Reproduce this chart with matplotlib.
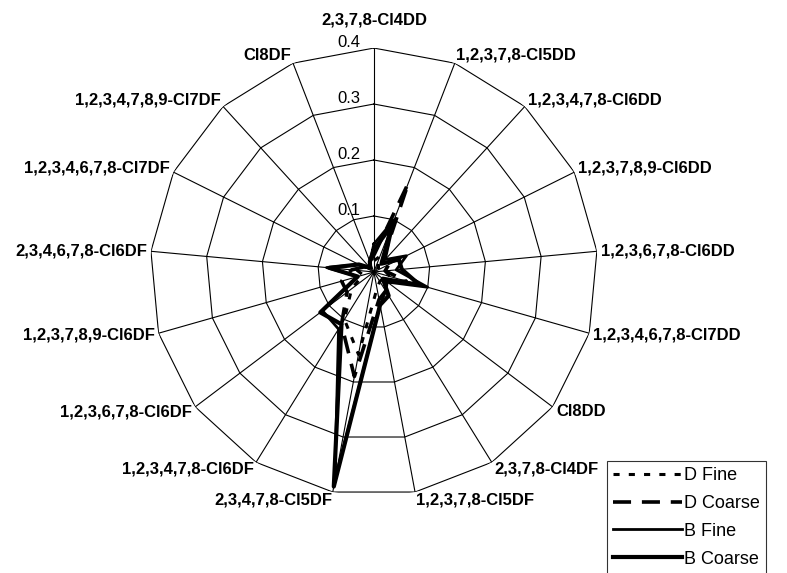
import numpy as np
import matplotlib
matplotlib.use("Agg")
import matplotlib.pyplot as plt

plt.rcParams['font.family'] = ['Liberation Sans', 'DejaVu Sans']

congeners = ['2,3,7,8-Cl4DD', '1,2,3,7,8-Cl5DD', '1,2,3,4,7,8-Cl6DD', '1,2,3,7,8,9-Cl6DD',
             '1,2,3,6,7,8-Cl6DD', '1,2,3,4,6,7,8-Cl7DD', 'Cl8DD', '2,3,7,8-Cl4DF',
             '1,2,3,7,8-Cl5DF', '2,3,4,7,8-Cl5DF', '1,2,3,4,7,8-Cl6DF', '1,2,3,6,7,8-Cl6DF',
             '1,2,3,7,8,9-Cl6DF', '2,3,4,6,7,8-Cl6DF', '1,2,3,4,6,7,8-Cl7DF',
             '1,2,3,4,7,8,9-Cl7DF', 'Cl8DF']

d_fine = [0.02, 0.03, 0.01, 0.02, 0.02, 0.03, 0.02, 0.02, 0.03, 0.15, 0.10, 0.05,
          0.02, 0.03, 0.02, 0.01, 0.01]
d_coarse = [0.03, 0.17, 0.02, 0.03, 0.02, 0.06, 0.03, 0.04, 0.05, 0.19, 0.11, 0.06,
            0.06, 0.04, 0.02, 0.01, 0.02]
b_fine = [0.05, 0.10, 0.03, 0.065, 0.04, 0.10, 0.03, 0.04, 0.06, 0.38, 0.12, 0.115,
          0.03, 0.085, 0.03, 0.01, 0.02]
b_coarse = [0.04, 0.09, 0.02, 0.05, 0.05, 0.085, 0.02, 0.05, 0.06, 0.39, 0.11, 0.12,
            0.03, 0.08, 0.03, 0.01, 0.02]

rings = [0.1, 0.2, 0.3, 0.4]

n = len(congeners)
theta = np.linspace(0, 2 * np.pi, n, endpoint=False)
tc = np.append(theta, theta[0])

fig = plt.figure(figsize=(7.87, 5.73), dpi=100)
ax = fig.add_axes([0.1906, 0.1344, 0.569, 0.782], projection='polar')
ax.set_theta_zero_location('N')
ax.set_theta_direction(-1)
ax.set_ylim(0, 0.4)
ax.grid(False)
ax.set_xticks([])
ax.set_yticks([])
ax.spines['polar'].set_visible(False)

# polygon grid
for r in rings:
    ax.plot(tc, [r] * (n + 1), color='black', lw=0.8, zorder=1)
for t in theta:
    ax.plot([t, t], [0, 0.4], color='black', lw=0.8, zorder=1)

for r in rings:
    ax.annotate(f'{r:.1f}', xy=(0, r), xytext=(-18, 4), textcoords='offset points',
                ha='center', va='center', fontsize=12)

def closed(v):
    return list(v) + [v[0]]

ax.plot(tc, closed(d_fine), color='black', lw=2.2, ls=(0, (2, 3)), label='D Fine', zorder=3)
ax.plot(tc, closed(d_coarse), color='black', lw=2.6, ls=(0, (5, 3)), label='D Coarse', zorder=3)
ax.plot(tc, closed(b_fine), color='black', lw=2.0, label='B Fine', zorder=3)
ax.plot(tc, closed(b_coarse), color='black', lw=3.0, label='B Coarse', zorder=3)

for t, name in zip(theta, congeners):
    s, c = np.sin(t), np.cos(t)
    if abs(s) < 0.1:
        ha = 'center'
    elif s > 0:
        ha = 'left'
    else:
        ha = 'right'
    if t == 0:
        off = (0, 20)
    else:
        off = (s * 3, c * 6)
    ax.annotate(name, xy=(t, 0.4), xytext=off, textcoords='offset points',
                ha=ha, va='center', fontsize=12, fontweight='bold')

leg = fig.legend(loc='upper left', bbox_to_anchor=(0.771, 0.196), fontsize=13,
                 handlelength=3.8, handletextpad=0.1, labelspacing=0.6,
                 borderpad=0.35, frameon=True, fancybox=False, edgecolor='black',
                 borderaxespad=0)
leg.get_frame().set_linewidth(0.8)

fig.savefig('out.png', dpi=100)
